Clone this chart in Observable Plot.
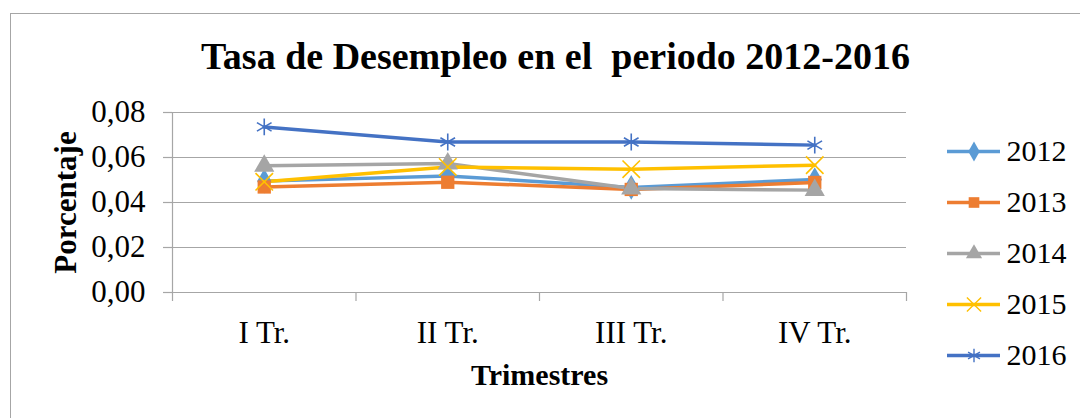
<!DOCTYPE html>
<html>
<head>
<meta charset="utf-8">
<script src="https://cdn.jsdelivr.net/npm/d3@7"></script>
<script src="https://cdn.jsdelivr.net/npm/@observablehq/plot@0.6"></script>
<style>
  html, body { margin: 0; padding: 0; background: #fff; }
  #wrap { position: relative; width: 1080px; height: 418px; overflow: hidden; background: #fff; }
  #frame { position: absolute; left: 10px; top: 13px; width: 1200px; height: 600px; border: 1.5px solid #A6A6A6; box-sizing: border-box; }
  #main { position: absolute; left: 0; top: 0; }
  #legend { position: absolute; left: 940px; top: 120px; }
  svg, svg g, svg text { font-family: 'Liberation Serif', 'Times New Roman', serif !important; font-variant: normal !important; font-variant-numeric: normal !important; }
  svg text { white-space: pre; }
</style>
</head>
<body>
<div id="wrap">
  <div id="frame"></div>
  <div id="main"></div>
  <div id="legend"></div>
</div>
<script>
const title = "Tasa de Desempleo en el  periodo 2012-2016";
const yTitle = "Porcentaje";
const xTitle = "Trimestres";
const quarters = ["I Tr.", "II Tr.", "III Tr.", "IV Tr."];
const years = ["2012", "2013", "2014", "2015", "2016"];
const yTicks = [0, 0.02, 0.04, 0.06, 0.08];

const v2012 = [0.0495, 0.0518, 0.0467, 0.0502];
const v2013 = [0.0469, 0.0490, 0.0458, 0.0489];
const v2014 = [0.0563, 0.0573, 0.0462, 0.0455];
const v2015 = [0.0492, 0.0558, 0.0548, 0.0566];
const v2016 = [0.0736, 0.0669, 0.0669, 0.0655];

const colors = ["#5B9BD5", "#ED7D31", "#A5A5A5", "#FFC000", "#4472C4"];
const symbols = ["diamond", "square", "triangle", "times", "asterisk"];
const strokeSymbols = ["2015", "2016"];

const seriesValues = [v2012, v2013, v2014, v2015, v2016];
const data = years.flatMap((yr, s) =>
  seriesValues[s].map((v, i) => ({year: yr, qi: i + 0.5, value: v}))
);

const font = "'Liberation Serif', 'Times New Roman', serif";
const gray = "#A6A6A6";

const main = Plot.plot({
  width: 1080,
  height: 418,
  marginLeft: 172,
  marginRight: 174,
  marginTop: 112,
  marginBottom: 126,
  style: {fontFamily: font, fontSize: "31px", color: "black", background: "transparent"},
  x: {type: "linear", domain: [0, quarters.length]},
  y: {domain: [0, 0.08]},
  color: {domain: years, range: colors},
  symbol: {domain: years, range: symbols},
  marks: [
    Plot.gridY(yTicks, {stroke: gray, strokeOpacity: 1, strokeWidth: 1.2}),
    Plot.axisY({ticks: yTicks, tickSize: 9, tickPadding: 18, stroke: gray, strokeWidth: 1.2,
      tickFormat: d => d.toFixed(2).replace(".", ","), fontSize: 31, fill: "black", label: null}),
    Plot.axisX({ticks: d3.range(quarters.length + 1), tickSize: 9, tickFormat: () => "", stroke: gray, strokeWidth: 1.2, label: null}),
    Plot.axisX({ticks: quarters.map((q, i) => i + 0.5), tickSize: 0, tickPadding: 28,
      tickFormat: d => quarters[Math.floor(d)], fontSize: 31, fill: "black", label: null}),
    Plot.ruleY([0], {stroke: gray, strokeWidth: 1.2}),
    Plot.ruleX([0], {stroke: gray, strokeWidth: 1.2}),
    Plot.line(data, {x: "qi", y: "value", z: "year", stroke: "year", strokeWidth: 3.5, curve: "linear"}),
    Plot.dot(data.filter(d => !strokeSymbols.includes(d.year)), {x: "qi", y: "value", symbol: "year", fill: "year", stroke: "none", r: 7.5}),
    Plot.dot(data.filter(d => strokeSymbols.includes(d.year)), {x: "qi", y: "value", symbol: "year", stroke: "year", fill: "none", strokeWidth: 1.6, r: 8}),
    Plot.text([title], {frameAnchor: "top", dy: -56, dx: 16, fontSize: 38, fontWeight: "bold", lineAnchor: "middle", fill: "black"}),
    Plot.text([yTitle], {frameAnchor: "left", dx: -106, rotate: -90, textAnchor: "middle", lineAnchor: "middle", fontSize: 31, fontWeight: "bold", fill: "black"}),
    Plot.text([xTitle], {frameAnchor: "bottom", dy: 92, fontSize: 30, fontWeight: "bold", fill: "black"})
  ]
});
document.getElementById("main").appendChild(main);

const legend = Plot.plot({
  width: 140,
  height: 260,
  marginLeft: 7,
  marginRight: 80,
  marginTop: 31,
  marginBottom: 25,
  style: {fontFamily: font, fontSize: "30px", color: "black", background: "transparent"},
  x: {domain: [0, 1], axis: null},
  y: {type: "point", domain: years, padding: 0, axis: null},
  color: {domain: years, range: colors},
  symbol: {domain: years, range: symbols},
  marks: [
    Plot.ruleY(years, {y: d => d, x1: 0, x2: 1, stroke: d => d, strokeWidth: 3.5}),
    Plot.dot(years.filter(y => !strokeSymbols.includes(y)), {x: 0.5, y: d => d, symbol: d => d, fill: d => d, stroke: "none", r: 6}),
    Plot.dot(years.filter(y => strokeSymbols.includes(y)), {x: 0.5, y: d => d, symbol: d => d, stroke: d => d, fill: "none", strokeWidth: 1.4, r: 6.5}),
    Plot.text(years, {x: 1, y: d => d, text: d => d, dx: 6, textAnchor: "start", fontSize: 30, fill: "black"})
  ]
});
document.getElementById("legend").appendChild(legend);
</script>
</body>
</html>
